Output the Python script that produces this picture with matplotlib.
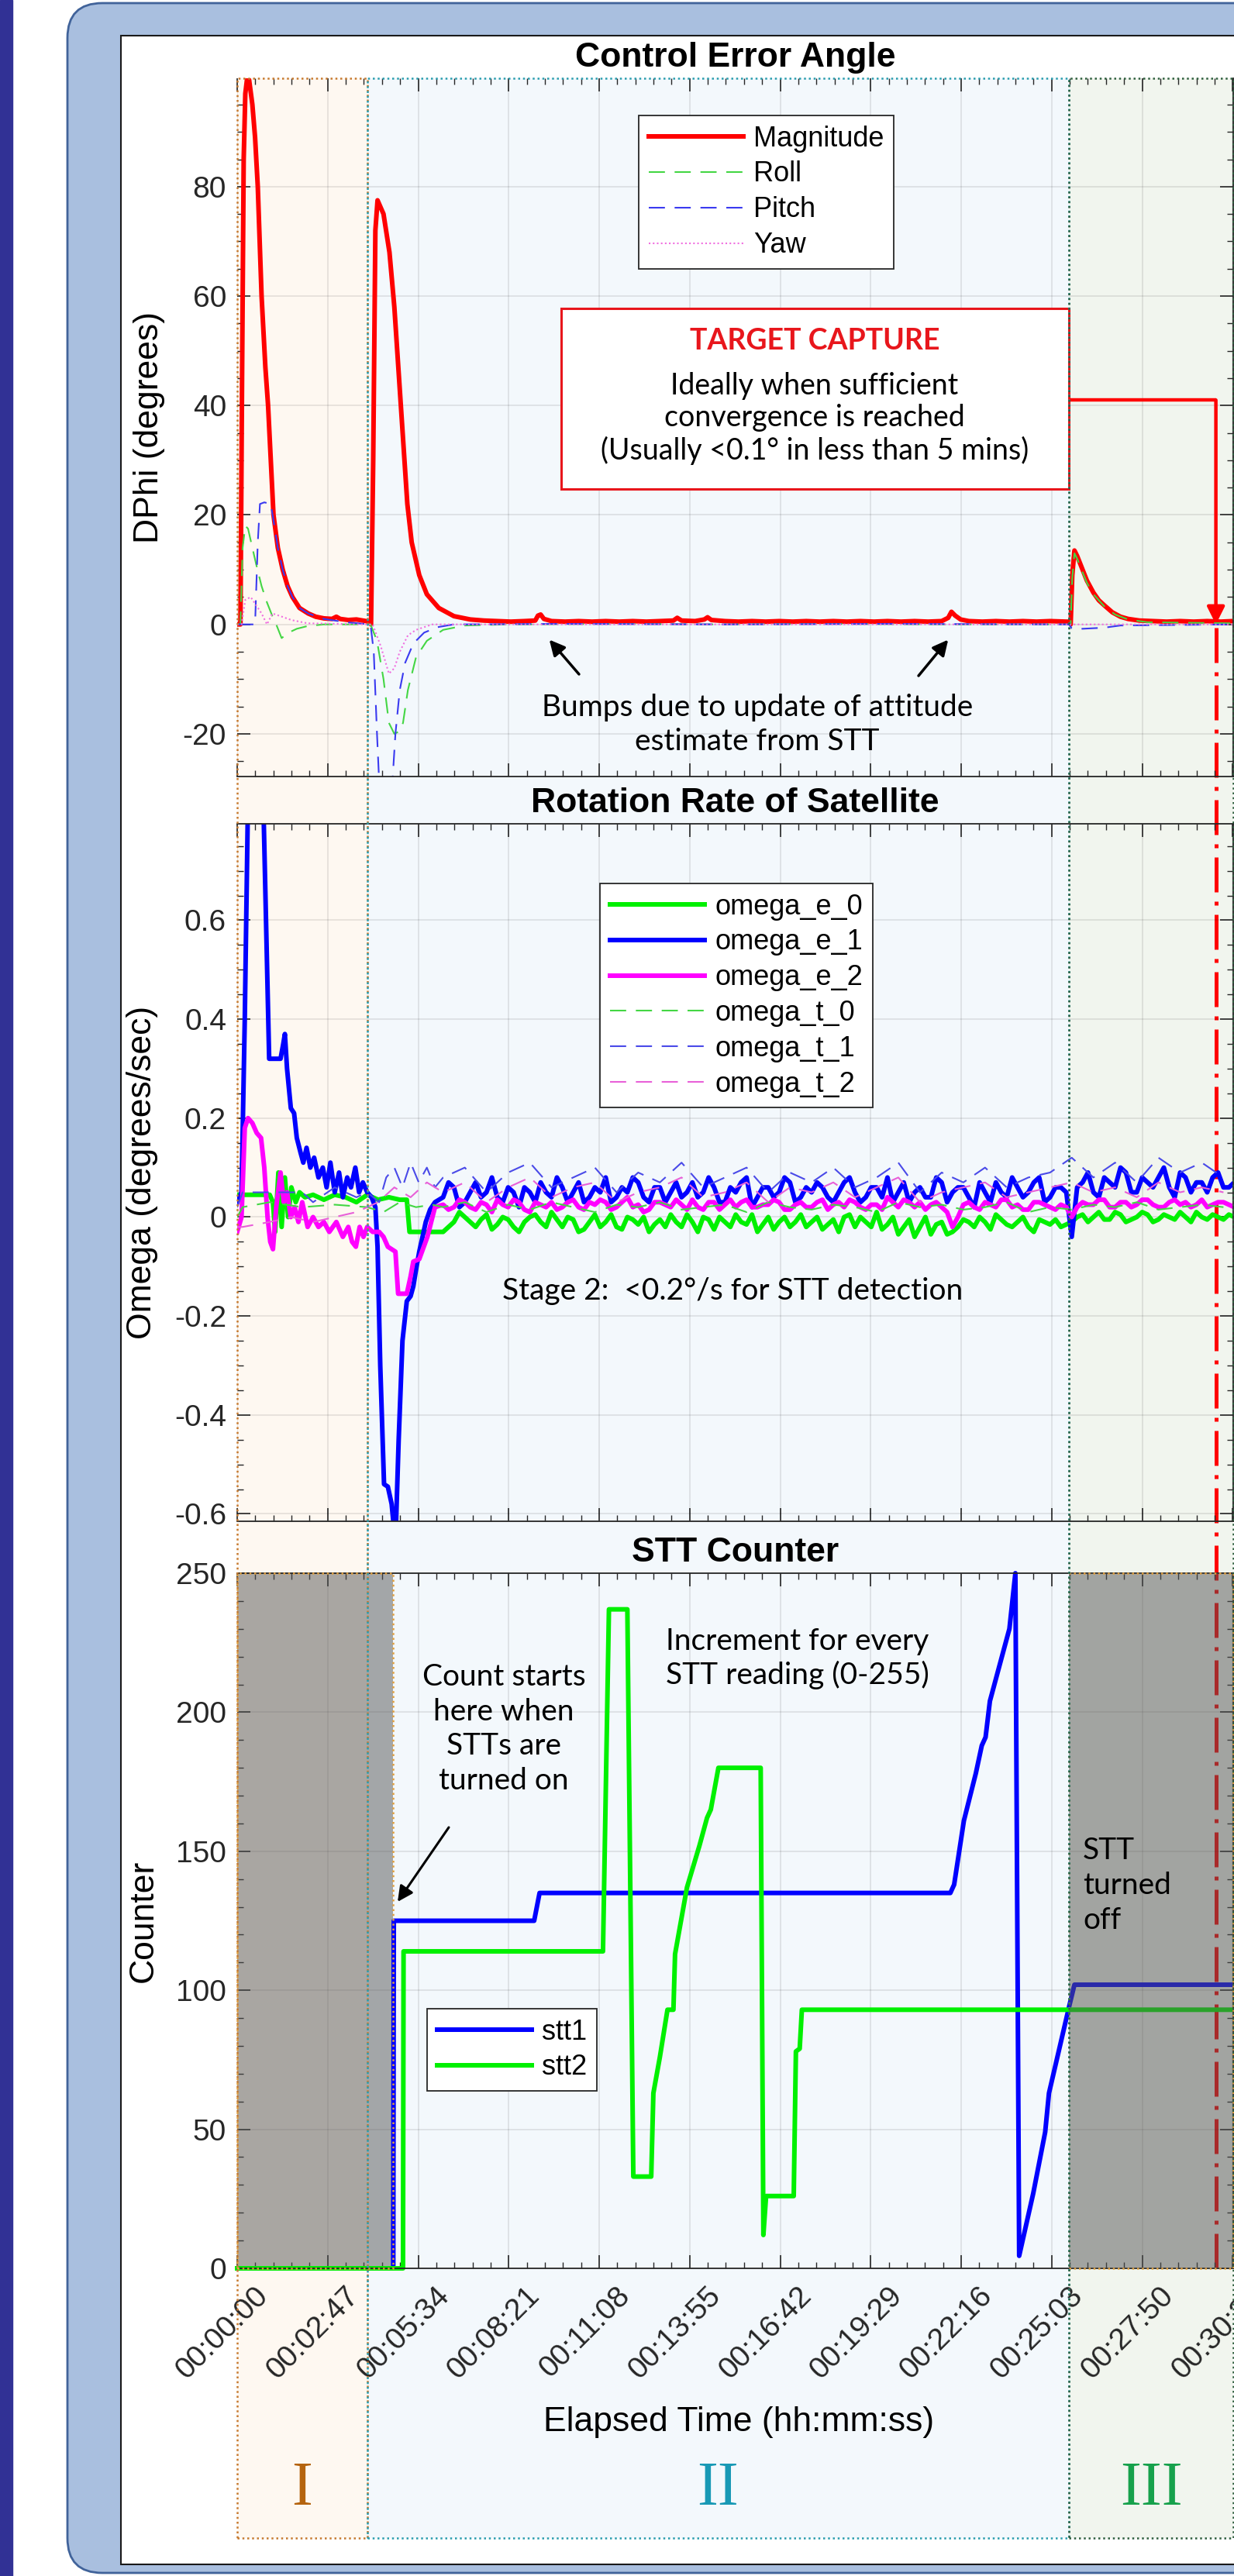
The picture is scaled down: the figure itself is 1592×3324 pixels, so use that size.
import matplotlib
matplotlib.use("Agg")
import matplotlib.pyplot as plt
import matplotlib.transforms as mtransforms
from matplotlib.patches import Rectangle, FancyBboxPatch
from matplotlib.lines import Line2D
from matplotlib.ticker import MultipleLocator
import numpy as np

plt.rcParams['font.family'] = ['Liberation Sans', 'DejaVu Sans']
plt.rcParams['axes.unicode_minus'] = False

# ---------------- data (seconds) ----------------
xtick_secs = [0, 167, 334, 501, 668, 835, 1002, 1169, 1336, 1503, 1670, 1837]
xtick_labels = ["00:00:00", "00:02:47", "00:05:34", "00:08:21", "00:11:08", "00:13:55",
                "00:16:42", "00:19:29", "00:22:16", "00:25:03", "00:27:50", "00:30:37"]
t_end = 1838

phase_edges = [0, 240, 1535, t_end]
phase_names = ["I", "II", "III"]
phase_fill = ["#FEF8F1", "#F3F8FC", "#F1F5EE"]
phase_edge = ["#C77A30", "#2A9DAE", "#2F5F3F"]
phase_text = ["#B5640F", "#1899B5", "#17A14C"]

# Control Error Angle
mag_t = [0, 6, 9, 12, 15, 18, 22, 28, 33, 38, 45, 52, 57, 63, 67, 75, 84, 93, 102, 115,
         131, 145, 160, 175, 183, 190, 205, 220, 238, 244, 247, 251, 255, 259, 270, 281, 290, 298, 306, 314,
         322, 336, 350, 372, 400, 430, 455, 480, 505, 530, 550, 555, 560, 566, 580, 605, 630, 655, 680, 705,
         730, 755, 780, 805, 812, 820, 845, 862, 868, 875, 900, 925, 950, 975, 1000, 1025, 1050, 1075, 1100, 1125,
         1150, 1175, 1200, 1225, 1250, 1275, 1300, 1312, 1318, 1325, 1335, 1350, 1375, 1400, 1425, 1450, 1475, 1500, 1530, 1535,
         1538, 1541, 1545, 1550, 1558, 1568, 1580, 1590, 1601, 1615, 1630, 1644, 1665, 1690, 1715, 1740, 1765, 1790, 1815, 1838]
mag_v = [0, 0, 45, 85, 97, 99.5, 99.5, 95, 89, 80, 60, 47, 40, 28, 20, 14, 10, 7, 5, 3,
         2, 1.4, 1.1, 1.0, 1.4, 1.0, 0.8, 0.9, 0.6, 0.4, 0, 30, 72, 77.5, 75, 68, 58, 46, 34, 22,
         15, 9, 5.5, 3, 1.5, 0.9, 0.7, 0.6, 0.5, 0.6, 0.7, 1.6, 1.8, 1.0, 0.6, 0.5, 0.6, 0.5, 0.6, 0.5,
         0.6, 0.5, 0.6, 0.7, 1.2, 0.7, 0.6, 0.9, 1.3, 0.8, 0.6, 0.5, 0.6, 0.5, 0.6, 0.5, 0.6, 0.5, 0.6, 0.5,
         0.6, 0.5, 0.6, 0.5, 0.6, 0.5, 0.6, 1.2, 2.3, 1.6, 0.9, 0.6, 0.5, 0.6, 0.5, 0.6, 0.5, 0.6, 0.5, 0.5,
         0, 9, 13.5, 12.5, 10.5, 8, 5.8, 4.4, 3.4, 2.2, 1.4, 1.0, 0.7, 0.6, 0.5, 0.6, 0.5, 0.6, 0.5, 0.6]
roll_t = [0, 6, 10, 15, 20, 28, 35, 45, 55, 65, 72, 82, 95, 110, 130, 160, 200, 246, 258, 270,
          280, 290, 300, 306, 315, 330, 350, 380, 420, 500, 700, 900, 1100, 1300, 1535, 1538, 1541, 1545, 1550, 1558,
          1568, 1580, 1601, 1620, 1644, 1680, 1838]
roll_v = [0, 0, 14, 18, 17.5, 14, 11, 7, 4, 1.5, 0, -2.5, -1.5, -0.8, -0.3, 0, 0, 0, -3, -10,
          -18, -20, -19.5, -18, -12, -6, -3, -1, -0.2, 0, 0.1, 0, 0.1, 0, 0, 0, 8.5, 13, 12, 10,
          7.6, 5.5, 3.2, 1.8, 0.9, 0.4, 0.2]
pitch_t = [0, 33, 38, 42, 50, 62, 67, 75, 84, 93, 102, 115, 131, 160, 200, 246, 252, 258, 263, 285,
           292, 300, 310, 325, 345, 370, 400, 600, 900, 1200, 1535, 1540, 1560, 1600, 1630, 1838]
pitch_v = [0, 0, 15, 22, 22.3, 22, 19, 14, 10, 7, 5, 3, 2, 1, 0.4, 0, -5, -20, -31, -31,
           -20, -12, -7, -3.5, -1.5, -0.5, 0, 0.1, 0, 0.1, 0, -0.7, -0.8, -0.6, -0.2, 0]
yaw_t = [0, 8, 15, 25, 35, 45, 55, 65, 80, 100, 130, 240, 250, 265, 280, 290, 300, 315, 330, 360, 1838]
yaw_v = [0, 0, 4.5, 5, 3.5, 2, 0, 2, 1.5, 0.8, 0.2, 0, 0, -4, -9, -8, -5, -2, -1, 0, 0]

# Rotation rate: transient part, then steady part on a 10 s grid (380..1840)
oe0_t0 = [0, 30, 60, 66, 70, 76, 82, 88, 94, 100, 108, 115, 125, 140, 160, 180, 200, 220, 240, 260,
          280, 300, 313, 318, 340, 360]
oe0_v0 = [0.045, 0.045, 0.045, 0.03, -0.03, 0.09, -0.02, 0.08, 0.0, 0.06, 0.03, 0.05, 0.04, 0.045, 0.035, 0.045,
          0.04, 0.03, 0.045, 0.035, 0.04, 0.035, 0.035, -0.03, -0.03, -0.03]
oe1_t0 = [0, 8, 14, 20, 48, 59, 80, 85, 88, 92, 99, 105, 110, 117, 122, 128, 135, 142, 150, 158,
          165, 172, 180, 188, 195, 203, 210, 218, 225, 232, 240, 248, 255, 259, 264, 271, 278, 285, 292, 298,
          305, 313, 320, 325, 331, 336, 342, 348, 356, 365]
oe1_v0 = [0.03, 0.05, 0.4, 0.85, 0.85, 0.32, 0.32, 0.35, 0.37, 0.3, 0.22, 0.21, 0.16, 0.13, 0.11, 0.14, 0.1, 0.12, 0.08, 0.1,
          0.06, 0.11, 0.05, 0.09, 0.04, 0.08, 0.06, 0.1, 0.05, 0.07, 0.05, 0.04, 0.02, -0.06, -0.3, -0.54, -0.545, -0.58, -0.66, -0.45,
          -0.25, -0.17, -0.16, -0.14, -0.1, -0.07, -0.04, -0.01, 0.015, 0.03]
oe2_t0 = [0, 8, 14, 20, 28, 36, 44, 50, 56, 61, 66, 72, 80, 86, 92, 99, 106, 113, 120, 130,
          140, 150, 160, 170, 183, 195, 205, 212, 219, 226, 233, 240, 250, 262, 270, 278, 292, 297, 313, 320,
          325, 336, 351, 365]
oe2_v0 = [-0.03, 0.0, 0.18, 0.2, 0.19, 0.17, 0.16, 0.1, 0.0, -0.05, -0.065, 0.02, 0.09, 0.03, 0.05, 0.0, 0.02, -0.01, 0.03, -0.02,
          0.0, -0.02, -0.01, -0.03, -0.01, -0.04, -0.02, -0.05, -0.06, -0.02, -0.04, -0.02, -0.03, -0.03, -0.04, -0.06, -0.07, -0.155, -0.155, -0.12,
          -0.09, -0.085, -0.04, 0.02]
t_steady = np.arange(380, 1841, 10)
# values at 380, 400, ..., 1840
oe0_even = [-0.03, -0.01, 0.0, -0.02, 0.005, -0.015, -0.005, -0.03, 0.0, -0.01,
            0.01, -0.02, -0.005, -0.025, 0.005, -0.01, -0.02, 0.0, -0.015, -0.03,
            -0.005, 0.005, -0.02, -0.01, 0.0, -0.025, -0.01, 0.005, -0.015, -0.03,
            0.0, -0.01, -0.02, 0.005, -0.01, -0.025, -0.005, 0.0, -0.02, -0.01,
            0.01, -0.015, -0.035, -0.005, -0.02, -0.035, -0.01, -0.03, -0.005, -0.02,
            -0.01, 0.005, -0.015, -0.01, -0.02, -0.005, -0.015, -0.02,
            -0.01, 0.005, 0.0, -0.005, 0.01, -0.01, 0.0, 0.005, -0.005, 0.0, 0.01, -0.01, 0.0, 0.005, -0.005, 0.0]
# values at 390, 410, ..., 1830
oe0_odd = [-0.02, 0.01, -0.01, -0.005, -0.025, 0.0, -0.02, -0.01, 0.005, -0.02,
           -0.005, 0.0, -0.03, -0.01, -0.02, 0.005, -0.025, -0.005, 0.0, -0.015,
           -0.02, -0.01, 0.005, -0.03, -0.005, 0.0, -0.02, -0.01, 0.005, -0.015,
           -0.025, 0.0, -0.01, -0.02, 0.0, -0.015, -0.03, 0.005, 0.0, -0.02,
           -0.025, 0.0, -0.02, -0.04, 0.0, -0.015, -0.035, -0.02, -0.01, 0.0,
           -0.025, -0.005, -0.02, 0.0, -0.03, -0.01, -0.005, -0.015,
           0.0, -0.01, 0.01, -0.005, 0.005, -0.005, 0.01, -0.01, 0.005, -0.005, 0.0, 0.01, -0.005, 0.0, 0.005]
oe1_even = [0.04, 0.06, 0.03, 0.07, 0.05, 0.04, 0.06, 0.02, 0.05, 0.07,
            0.04, 0.06, 0.05, 0.03, 0.06, 0.08, 0.04, 0.05, 0.07, 0.03,
            0.06, 0.05, 0.04, 0.07, 0.05, 0.06, 0.03, 0.05, 0.08, 0.04,
            0.06, 0.05, 0.07, 0.04, 0.05, 0.06, 0.03, 0.07, 0.05, 0.04,
            0.06, 0.08, 0.05, 0.03, 0.06, 0.04, 0.07, 0.05, 0.06, 0.02,
            0.05, 0.07, 0.04, 0.06, 0.05, 0.08, 0.04, 0.06,
            -0.04, 0.07, 0.05, 0.08, 0.06, 0.09, 0.05, 0.07, 0.08, 0.06, 0.09, 0.05, 0.07, 0.08, 0.06, 0.07]
oe1_odd = [0.07, 0.02, 0.05, 0.04, 0.08, 0.03, 0.05, 0.06, 0.03, 0.05,
           0.08, 0.03, 0.07, 0.04, 0.05, 0.03, 0.06, 0.08, 0.04, 0.06,
           0.03, 0.07, 0.05, 0.04, 0.08, 0.03, 0.06, 0.07, 0.02, 0.06,
           0.04, 0.08, 0.03, 0.06, 0.07, 0.04, 0.05, 0.08, 0.03, 0.06,
           0.04, 0.03, 0.07, 0.05, 0.04, 0.08, 0.03, 0.06, 0.04, 0.07,
           0.03, 0.05, 0.08, 0.04, 0.07, 0.03, 0.06, 0.05,
           0.06, 0.09, 0.04, 0.07, 0.1, 0.05, 0.08, 0.06, 0.1, 0.04, 0.08, 0.07, 0.05, 0.09, 0.06]
oe2_even = [0.025, 0.02, 0.03, 0.015, 0.025, 0.035, 0.02, 0.03, 0.01, 0.025,
            0.03, 0.02, 0.035, 0.015, 0.025, 0.03, 0.02, 0.04, 0.025, 0.015,
            0.03, 0.02, 0.025, 0.035, 0.015, 0.03, 0.025, 0.02, 0.035, 0.02,
            0.025, 0.03, 0.015, 0.03, 0.02, 0.035, 0.025, 0.02, 0.03, 0.015,
            0.025, 0.04, 0.02, 0.03, 0.03, 0.025, 0.02, -0.02, 0.025, 0.02,
            0.03, 0.02, 0.035, 0.025, 0.015, 0.03, 0.02, 0.025,
            0.0, 0.03, 0.025, 0.035, 0.02, 0.03, 0.025, 0.035, 0.02, 0.03, 0.025, 0.02, 0.035, 0.025, 0.03, 0.02]
oe2_odd = [0.015, 0.035, 0.02, 0.03, 0.01, 0.025, 0.035, 0.015, 0.03, 0.02,
           0.015, 0.03, 0.02, 0.03, 0.035, 0.015, 0.03, 0.02, 0.01, 0.03,
           0.025, 0.035, 0.015, 0.02, 0.03, 0.015, 0.035, 0.03, 0.02, 0.025,
           0.035, 0.015, 0.025, 0.02, 0.03, 0.015, 0.03, 0.035, 0.02, 0.025,
           0.015, 0.03, 0.035, 0.02, 0.015, 0.03, 0.01, 0.0, 0.03, 0.015,
           0.025, 0.035, 0.02, 0.015, 0.03, 0.025, 0.015, 0.02,
           0.02, 0.025, 0.035, 0.02, 0.03, 0.02, 0.035, 0.025, 0.02, 0.035, 0.03, 0.025, 0.02, 0.03, 0.025]
# thin target rates: transient, then a 40 s grid (380..1820)
t_thin = np.arange(380, 1841, 40)
ot0_t0 = [0, 10, 60, 120, 180, 240, 270, 300, 330, 360]
ot0_v0 = [0.0, 0.02, 0.03, 0.02, 0.025, 0.02, 0.01, 0.03, 0.02, 0.025]
ot1_t0 = [0, 10, 120, 140, 180, 220, 240, 262, 275, 290, 305, 320, 335, 350, 365]
ot1_v0 = [0.02, 0.05, 0.05, 0.03, 0.06, 0.04, 0.05, 0.03, 0.08, 0.1, 0.06, 0.11, 0.07, 0.1, 0.06]
ot2_t0 = [0, 10, 60, 100, 140, 180, 220, 260, 290, 320, 350]
ot2_v0 = [-0.02, -0.02, -0.01, 0.0, -0.01, 0.0, 0.01, 0.03, 0.06, 0.04, 0.07]
ot0_v1 = [0.02, 0.03, 0.01, 0.025, 0.015, 0.03, 0.02, 0.01, 0.025, 0.02, 0.03, 0.015, 0.02, 0.025, 0.01, 0.03,
          0.02, 0.015, 0.025, 0.02, 0.01, 0.03, 0.02, 0.025, 0.015, 0.02, 0.03, 0.01, 0.02, 0.015, 0.025, 0.02,
          0.03, 0.015, 0.02, 0.025, 0.02]
ot1_v1 = [0.08, 0.1, 0.05, 0.09, 0.11, 0.06, 0.08, 0.1, 0.05, 0.09, 0.07, 0.11, 0.06, 0.08, 0.1, 0.05,
          0.09, 0.07, 0.1, 0.06, 0.08, 0.11, 0.05, 0.09, 0.07, 0.1, 0.06, 0.08, 0.09, 0.12, 0.08, 0.11,
          0.07, 0.12, 0.09, 0.11, 0.08]
ot2_v1 = [0.05, 0.07, 0.03, 0.06, 0.08, 0.04, 0.06, 0.07, 0.03, 0.05, 0.06, 0.08, 0.04, 0.05, 0.07, 0.03,
          0.06, 0.05, 0.07, 0.04, 0.06, 0.08, 0.03, 0.05, 0.06, 0.07, 0.04, 0.05, 0.06, 0.07, 0.05, 0.06,
          0.04, 0.07, 0.05, 0.06, 0.05]

# STT counters
stt1_t = [0, 288, 289, 548, 558, 1316, 1323, 1341, 1363, 1374, 1381, 1389, 1425, 1436, 1443, 1469, 1491, 1498, 1535, 1545, 1838]
stt1_v = [0, 0, 125, 125, 135, 135, 138, 161, 178, 188, 191, 204, 230, 250, 4.5, 27, 49, 63, 94, 102, 102]
stt2_t = [0, 306, 307, 675, 686, 720, 731, 764, 768, 780, 794, 805, 808, 830, 853, 867, 874, 888, 966, 971,
          976, 1027, 1031, 1038, 1042, 1838]
stt2_v = [0, 0, 114, 114, 237, 237, 33, 33, 63, 76, 93, 93, 113, 137, 152, 162, 165, 180, 180, 12,
          26, 26, 78, 79, 93, 93]
stt_off = [(0, 287), (1535, t_end)]

target_t = 1806
target_level = 41
target_box = (598, 1535, 24.8, 57.7)


def interleave(even, odd):
    out = []
    for a, b in zip(even, odd):
        out += [a, b]
    return out + [even[-1]]


# ---------------- figure ----------------
W, H, DPI = 1592, 3324, 100
fig = plt.figure(figsize=(W / DPI, H / DPI), dpi=DPI)
px = mtransforms.Affine2D().scale(1 / DPI) + fig.dpi_scale_trans   # pixel units, origin bottom-left


def Y(y):
    return H - y


# page decoration
fig.add_artist(Rectangle((0, 0), 16, H, transform=px, color="#313195", zorder=-20))
fig.add_artist(FancyBboxPatch((87, Y(3320)), 1800, 3316, boxstyle="round,pad=0,rounding_size=45",
                              transform=px, fc="#A9BFDF", ec="#41639A", lw=2, zorder=-19))
fig.add_artist(Rectangle((156, Y(3309)), 1700, 3309 - 46, transform=px, fc="white", ec="#1a1a1a",
                         lw=1.5, zorder=-18))


def place(top, bottom):
    return fig.add_axes([306 / W, 1 - bottom / H, (1591 - 306) / W, (bottom - top) / H])


ax1 = place(101, 1002)
ax2 = place(1063, 1963)
ax3 = place(2030, 2927)

for ax in (ax1, ax2, ax3):
    ax.patch.set_alpha(0)
    ax.set_xlim(0, t_end)
    ax.set_xticks(xtick_secs)
    ax.xaxis.set_minor_locator(MultipleLocator(33.4))
    ax.tick_params(which="both", direction="in", top=True, right=True, colors="#262626", labelsize=28)
    ax.tick_params(which="major", length=12, width=1.2)
    ax.tick_params(which="minor", length=6, width=1.0)
    ax.tick_params(axis="y", pad=10)
    ax.grid(True, which="major", color="k", alpha=0.1, lw=1.2)
    ax.set_axisbelow(True)
    ax.spines["left"].set_visible(False)
    for s in ("right", "bottom", "top"):
        ax.spines[s].set_color("#262626")
        ax.spines[s].set_linewidth(1.3)
ax1.spines["top"].set_visible(False)

# phase backgrounds and dotted frames
blend = mtransforms.blended_transform_factory(ax1.transData, px)
for i in range(3):
    x0, x1 = phase_edges[i], phase_edges[i + 1]
    fig.add_artist(Rectangle((x0, Y(3275)), x1 - x0, 3275 - 101, transform=blend,
                             fc=phase_fill[i], ec="none", zorder=-10))
    fig.add_artist(Rectangle((x0, Y(3275)), x1 - x0, 3275 - 101, transform=blend, fill=False,
                             ec=phase_edge[i], ls=(0, (1, 1.5)), lw=1.8, zorder=4))
    fig.text((x0 + x1) / 2, Y(3212), phase_names[i], transform=blend, ha="center", va="center",
             fontsize=58, color=phase_text[i], family=["Liberation Serif", "DejaVu Serif"])

# ---- panel 1 ----
lw_thick, lw_thin = 4.3, 1.5
ax1.plot(mag_t, mag_v, color="#FF0000", lw=lw_thick, label="Magnitude")
ax1.plot(roll_t, roll_v, color="#44D644", lw=lw_thin, ls=(0, (10, 6)), label="Roll")
ax1.plot(pitch_t, pitch_v, color="#3A3AF0", lw=lw_thin, ls=(0, (10, 6)), label="Pitch")
ax1.plot(yaw_t, yaw_v, color="#F070E0", lw=lw_thin, ls=(0, (1, 1.5)), label="Yaw")
ax1.set_ylim(-27.8, 99.8)
ax1.set_yticks([-20, 0, 20, 40, 60, 80])
ax1.set_yticklabels(["-20", "0", "20", "40", "60", "80"])
ax1.yaxis.set_minor_locator(MultipleLocator(5))
ax1.tick_params(labelbottom=False)
ax1.set_title("Control Error Angle", fontsize=32, fontweight="bold", pad=11)
ax1.set_ylabel("DPhi (degrees)", fontsize=32)
ax1.yaxis.set_label_coords(-0.0887, 0.5)
ax1.yaxis.label.set_va("center")

leg_kw = dict(loc="upper left", bbox_transform=px, fontsize=26, handlelength=3.4, fancybox=False,
              edgecolor="#262626", framealpha=1, facecolor="white", borderaxespad=0,
              labelspacing=0.3, handletextpad=0.35, borderpad=0.35)
leg = ax1.legend(bbox_to_anchor=(824, Y(149)), **leg_kw)
leg.get_frame().set_linewidth(1.3)

tx0, tx1, ty0, ty1 = target_box
ax1.add_patch(Rectangle((tx0, ty0), tx1 - tx0, ty1 - ty0, fc="white", ec="#E8161C", lw=2.2, zorder=5))
ann_font = ["Lato", "DejaVu Sans"]
fig.text(1051, Y(440), "TARGET CAPTURE", transform=px, ha="center", va="center", fontsize=27,
         fontweight="bold", color="#E8161C", family=ann_font, zorder=6)
fig.text(1051, Y(540), "Ideally when sufficient\nconvergence is reached\n(Usually <0.1° in less than 5 mins)",
         transform=px, ha="center", va="center", fontsize=27, linespacing=1.2, family=ann_font, zorder=6)
ax1.plot([tx1, target_t], [target_level, target_level], color="#FF0000", lw=3.2, zorder=6, solid_capstyle="butt")
ax1.annotate("", xy=(target_t, 0), xytext=(target_t, target_level),
             arrowprops=dict(arrowstyle="-|>", color="#FF0000", lw=3.2, mutation_scale=34, shrinkA=0, shrinkB=0),
             zorder=6)
fig.text(977, Y(935), "Bumps due to update of attitude\nestimate from STT", transform=px, ha="center",
         va="center", fontsize=28, linespacing=1.25, family=ann_font)
for tip_t, tail in [(576, (747, Y(870))), (1312, (1185, Y(872)))]:
    ax1.annotate("", xy=(tip_t, -2.8), xytext=tail, textcoords=px,
                 arrowprops=dict(arrowstyle="-|>", color="black", lw=2.5, mutation_scale=30, shrinkA=0, shrinkB=0))

# ---- panel 2 ----
ax2.plot(oe0_t0 + list(t_steady), oe0_v0 + interleave(oe0_even, oe0_odd), color="#00F000", lw=lw_thick, label="omega_e_0")
ax2.plot(oe1_t0 + list(t_steady), oe1_v0 + interleave(oe1_even, oe1_odd), color="#0000FF", lw=lw_thick, label="omega_e_1")
ax2.plot(oe2_t0 + list(t_steady), oe2_v0 + interleave(oe2_even, oe2_odd), color="#FF00FF", lw=lw_thick, label="omega_e_2")
ax2.plot(ot0_t0 + list(t_thin), ot0_v0 + ot0_v1, color="#44D644", lw=lw_thin, ls=(0, (10, 6)), label="omega_t_0")
ax2.plot(ot1_t0 + list(t_thin), ot1_v0 + ot1_v1, color="#4A4AE8", lw=lw_thin, ls=(0, (10, 6)), label="omega_t_1")
ax2.plot(ot2_t0 + list(t_thin), ot2_v0 + ot2_v1, color="#E860D8", lw=lw_thin, ls=(0, (10, 6)), label="omega_t_2")
ax2.set_ylim(-0.615, 0.795)
ax2.set_yticks([-0.6, -0.4, -0.2, 0, 0.2, 0.4, 0.6])
ax2.set_yticklabels(["-0.6", "-0.4", "-0.2", "0", "0.2", "0.4", "0.6"])
ax2.yaxis.set_minor_locator(MultipleLocator(0.05))
ax2.tick_params(labelbottom=False)
ax2.set_title("Rotation Rate of Satellite", fontsize=32, fontweight="bold", pad=11)
ax2.set_ylabel("Omega (degrees/sec)", fontsize=32)
ax2.yaxis.set_label_coords(-0.0953, 0.5)
ax2.yaxis.label.set_va("center")
leg = ax2.legend(bbox_to_anchor=(774, Y(1140)), **leg_kw)
leg.get_frame().set_linewidth(1.3)
fig.text(648, Y(1666), "Stage 2:  <0.2°/s for STT detection", transform=px, ha="left", va="center",
         fontsize=28, family=ann_font)

# ---- panel 3 ----
for k, (s, e) in enumerate(stt_off):
    ax3.add_patch(Rectangle((s, 0), e - s, 250, fc="#555555", alpha=0.5, ec="none", zorder=1 if k == 0 else 3))
    ax3.add_patch(Rectangle((s, 0), e - s, 250, fill=False, ec="#E0A040", ls=(0, (1, 1.5)), lw=1.8,
                            zorder=3.5, clip_on=False))
ax3.plot(stt1_t, stt1_v, color="#0000FF", lw=lw_thick, label="stt1", clip_on=False, zorder=2)
ax3.plot(stt2_t, stt2_v, color="#00F000", lw=lw_thick, label="stt2", clip_on=False, zorder=2.1)
ax3.set_ylim(0, 250)
ax3.set_yticks([0, 50, 100, 150, 200, 250])
ax3.yaxis.set_minor_locator(MultipleLocator(10))
ax3.set_xticklabels(xtick_labels, rotation=45, ha="right", va="top", rotation_mode="anchor")
ax3.tick_params(axis="x", pad=2)
shift = mtransforms.ScaledTranslation(22 / DPI, -14 / DPI, fig.dpi_scale_trans)
for lab in ax3.get_xticklabels():
    lab.set_transform(lab.get_transform() + shift)
ax3.set_title("STT Counter", fontsize=32, fontweight="bold", pad=11)
ax3.set_ylabel("Counter", fontsize=32)
ax3.yaxis.set_label_coords(-0.094, 0.5)
ax3.yaxis.label.set_va("center")
ax3.set_xlabel("Elapsed Time (hh:mm:ss)", fontsize=32)
ax3.xaxis.set_label_coords(0.5035, -(3126 - 2927) / (2927 - 2030))
ax3.xaxis.label.set_va("center")
leg = ax3.legend(bbox_to_anchor=(551, Y(2592)), **leg_kw)
leg.get_frame().set_linewidth(1.3)

fig.text(650, Y(2231), "Count starts\nhere when\nSTTs are\nturned on", transform=px, ha="center",
         va="center", fontsize=28, linespacing=1.3, family=ann_font)
ax3.annotate("", xy=(513, Y(2454)), xycoords=px, xytext=(579, Y(2358)), textcoords=px,
             arrowprops=dict(arrowstyle="-|>", color="black", lw=2.2, mutation_scale=30, shrinkA=0, shrinkB=0))
fig.text(1029, Y(2140), "Increment for every\nSTT reading (0-255)", transform=px, ha="center",
         va="center", fontsize=28, linespacing=1.25, family=ann_font)
fig.text(1397, Y(2433), "STT\nturned\noff", transform=px, ha="left", va="center", fontsize=28,
         linespacing=1.3, family=ann_font, zorder=6)

# red dash-dot marker of target capture, from panel 1 zero down to panel 3 bottom
fig.canvas.draw()
y_zero = ax1.transData.transform((0, 0))[1]
y_bot = ax3.transData.transform((0, 0))[1]
fig.add_artist(Line2D([target_t, target_t], [y_bot, y_zero],
                      transform=mtransforms.blended_transform_factory(ax1.transData, mtransforms.IdentityTransform()),
                      color="#FF0000", lw=3.6, ls=(0, (9, 2.4, 1, 2.4)), zorder=-1))

fig.savefig("out.png", dpi=DPI)
